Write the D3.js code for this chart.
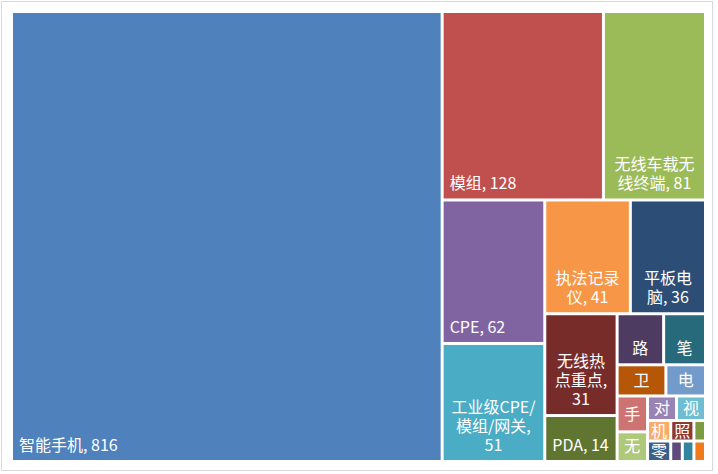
<!DOCTYPE html>
<html>
<head>
<meta charset="utf-8">
<script src="https://cdn.jsdelivr.net/npm/d3@7"></script>
<style>
body { margin: 0; background: #fff; }
svg { display: block; font-family: "Noto Sans CJK SC", "Noto Sans", sans-serif; }
</style>
</head>
<body>
<svg width="718" height="474"></svg>
<script>
// data (small ones read off the area, no value label in the picture)
var names = ["智能手机", "模组", "无线车载无线终端", "CPE", "工业级CPE/模组/网关", "执法记录仪",
    "平板电脑", "无线热点重点", "PDA", "路", "笔", "卫", "电", "手", "无", "对", "视",
    "机", "零", "照", "", "", "", ""];
var values = [816, 128, 81, 62, 51, 41, 36, 31, 14, 10, 9, 6.4, 5.2, 4.6, 3.8, 3, 3, 2, 2, 2, 1, 1, 1, 1];
var colors = ["#4f81bd", "#c0504d", "#9bbb59", "#8064a2", "#4bacc6", "#f79646",
    "#2c4d75", "#772c2a", "#5f7530", "#4d3b62", "#276a7c", "#b65708",
    "#729aca", "#cd7371", "#afc97a", "#9983b5", "#6fbdd1", "#f9ab6b",
    "#3a5f8b", "#8c3836", "#7d9b40", "#604a7b", "#31859c", "#f07a1c"];

var svg = d3.select("svg"),
    fs = 16, pad = 6, lh = 19;

svg.append("rect")
    .attr("x", 1.5).attr("y", 1.5)
    .attr("width", 711).attr("height", 469)
    .attr("fill", "#fff")
    .attr("stroke", "#d9d9d9");

var data = names.map(function(n, i) {
    return {name: n, value: values[i], color: colors[i]};
});

var root = d3.hierarchy({children: data})
    .sum(function(d) { return d.value || 0; })
    .sort(function(a, b) { return b.value - a.value; });

d3.treemap()
    .tile(d3.treemapSquarify.ratio(1))
    .size([691, 447])
    .paddingInner(3)(root);

var g = svg.append("g").attr("transform", "translate(13,13)");

// used only to measure text
var probe = svg.append("text").attr("font-size", fs).attr("opacity", 0);
function measure(s) {
    probe.text(s);
    return probe.node().getComputedTextLength();
}

function tokens(s) {
    return s.match(/[\u3000-\u9fff]|[^\s\u3000-\u9fff]+|\s+/g) || [];
}

function wrap(s, avail) {
    var lines = [], line = "";
    tokens(s).forEach(function(t) {
        if (/^\s+$/.test(t)) { line += t; return; }
        var test = line + t;
        if (measure(test) > avail && line.trim() != "" && !/^[,.\/]$/.test(t)) {
            lines.push(line.trim());
            line = t;
        } else {
            line = test;
        }
    });
    if (line.trim() != "") lines.push(line.trim());
    return lines;
}

var cell = g.selectAll("g.cell")
    .data(root.leaves())
    .enter().append("g")
    .attr("class", "cell");

cell.append("rect")
    .attr("x", function(d) { return d.x0; })
    .attr("y", function(d) { return d.y0; })
    .attr("width", function(d) { return d.x1 - d.x0; })
    .attr("height", function(d) { return d.y1 - d.y0; })
    .attr("fill", function(d) { return d.data.color; });

cell.each(function(d) {
    if (!d.data.name) return;
    var w = d.x1 - d.x0, h = d.y1 - d.y0, avail = w - 2 * pad;
    var full = d.data.name + ", " + d.data.value;
    var t = d3.select(this).append("text")
        .attr("font-size", fs)
        .attr("fill", "#fff");

    if (measure(full) <= avail) {
        t.attr("x", d.x0 + pad).attr("y", d.y1 - 9).text(full);
        return;
    }
    var lines = wrap(full, avail);
    if (lines.length * lh + 16 <= h) {
        t.attr("text-anchor", "middle");
        lines.forEach(function(l, i) {
            t.append("tspan")
                .attr("x", (d.x0 + d.x1) / 2)
                .attr("y", d.y1 - 9 - (lines.length - 1 - i) * lh)
                .text(l);
        });
        return;
    }
    // name only, as in the small boxes
    if (measure(d.data.name) <= w) {
        t.attr("text-anchor", "middle")
            .attr("x", (d.x0 + d.x1) / 2)
            .attr("y", h >= 40 ? d.y1 - 9 : (d.y0 + d.y1) / 2 + fs * 0.36)
            .text(d.data.name);
    } else {
        t.remove();
    }
});

probe.remove();
</script>
</body>
</html>
